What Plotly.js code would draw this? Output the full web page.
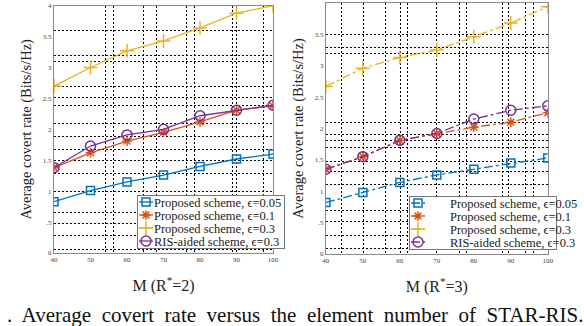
<!DOCTYPE html>
<html><head><meta charset="utf-8">
<script src="https://cdn.plot.ly/plotly-3.0.1.min.js"></script>
<style>html,body{margin:0;padding:0;background:#fff}#c{width:584px;height:326px}</style>
</head><body><div id="c"></div>
<script>
const M = [40, 50, 60, 70, 80, 90, 100];
const names = ["Proposed scheme, \u03f5=0.05", "Proposed scheme, \u03f5=0.1", "Proposed scheme, \u03f5=0.3", "RIS-aided scheme, \u03f5=0.3"];
// R*=2
const left_eps005 = [0.83, 1.01, 1.15, 1.26, 1.40, 1.52, 1.60];
const left_eps01  = [1.38, 1.62, 1.81, 1.95, 2.12, 2.31, 2.38];
const left_eps03  = [2.70, 3.00, 3.27, 3.43, 3.64, 3.88, 4.00];
const left_ris03  = [1.38, 1.73, 1.91, 2.00, 2.22, 2.31, 2.39];
// R*=3
const right_eps005 = [0.82, 0.98, 1.14, 1.26, 1.35, 1.45, 1.53];
const right_eps01  = [1.35, 1.55, 1.81, 1.92, 2.02, 2.10, 2.25];
const right_eps03  = [2.67, 2.96, 3.13, 3.25, 3.46, 3.68, 3.94];
const right_ris03  = [1.35, 1.55, 1.81, 1.92, 2.15, 2.29, 2.36];
const yTicks = [0, 0.5, 1, 1.5, 2, 2.5, 3, 3.5, 4];
const yTickText = ["0", ".5", "1", "1.5", "2", "2.5", "3", "3.5", "4"];
const caption = ".\u00a0 Average\u00a0 covert\u00a0 rate\u00a0 versus\u00a0 the\u00a0 element\u00a0 number\u00a0 of\u00a0 STAR-RIS.";

const colors = ["#0072BD", "#D95319", "#EDB120", "#7E2F8E"];
const symbols = ["square-open", "asterisk-open", "cross-thin-open", "circle-open"];
const sizes = [8, 8, 10, 10];
// irregular dotted grid seen in the (rescaled) reference
const gridXL = [54.2, 56.2, 64.4, 68.2, 76.4, 78.4, 88.8, 90.1, 97.3];
const gridYL = [3.60, 3.20, 3.10, 2.69, 2.51, 2.39, 2.10, 1.88, 1.68, 1.49, 1.29, 0.99, 0.66, 0.47, 0.29, 0.06];
const gridXR = [44.2, 50.1, 56.2, 60.1, 62, 69.9, 76, 78, 87.8, 89.3, 94.1, 96];
const gridYR = [3.49, 3.29, 3.20, 2.09, 1.90, 1.80, 1.69, 1.48, 1.31, 1.10, 0.70, 0.52, 0.30, 0.08];

function mk(ys, i, xa, ya, dash, leg) {
  return {x: M, y: ys, xaxis: xa, yaxis: ya, name: names[i], legend: leg,
    mode: "lines+markers", type: "scatter",
    line: {color: colors[i], width: 1.3, dash: dash},
    marker: {symbol: symbols[i], size: sizes[i], color: colors[i], line: {color: colors[i], width: 1.5}}};
}
const data = [
  mk(left_eps005, 0, "x", "y", "solid", "legend"),
  mk(left_eps01, 1, "x", "y", "solid", "legend"),
  mk(left_eps03, 2, "x", "y", "solid", "legend"),
  mk(left_ris03, 3, "x", "y", "solid", "legend"),
  mk(right_eps005, 0, "x2", "y2", "dashdot", "legend2"),
  mk(right_eps01, 1, "x2", "y2", "dashdot", "legend2"),
  mk(right_eps03, 2, "x2", "y2", "dashdot", "legend2"),
  mk(right_ris03, 3, "x2", "y2", "dashdot", "legend2"),
];
const TF = "Liberation Serif, Times New Roman, serif";
const minorGrid = vals => ({tickmode: "array", tickvals: vals, showgrid: true, ticks: "",
  gridcolor: "#000", griddash: "2px,2px", gridwidth: 1});
function xax(dom, anchor, txt, g) {
  return {domain: dom, anchor: anchor, range: [40, 100], tickvals: M, ticks: "",
    showline: true, mirror: true, linecolor: "#8a8a8a", linewidth: 1,
    showgrid: false, zeroline: false, minor: minorGrid(g),
    tickfont: {family: TF, size: 7, color: "#444"},
    title: {text: txt, font: {family: TF, size: 16, color: "#222"}, standoff: 16}};
}
function yax(dom, anchor, g) {
  return {domain: dom, anchor: anchor, range: [0, 4], tickvals: yTicks, ticktext: yTickText, ticks: "",
    showline: true, mirror: true, linecolor: "#8a8a8a", linewidth: 1,
    showgrid: false, zeroline: false, minor: minorGrid(g),
    tickfont: {family: TF, size: 7, color: "#444"},
    title: {text: "Average covert rate (Bits/s/Hz)", font: {family: TF, size: 14.5, color: "#222"}, standoff: 7}};
}
function leg(x, y) {
  return {x: x, y: y, xanchor: "left", yanchor: "top", xref: "paper", yref: "paper",
    bgcolor: "#fff", bordercolor: "#777", borderwidth: 1,
    font: {family: TF, size: 12.5, color: "#222"}, itemwidth: 30, tracegroupgap: 0};
}
const layout = {
  width: 584, height: 326, margin: {l: 0, r: 0, t: 0, b: 0},
  paper_bgcolor: "#fff", plot_bgcolor: "#fff", showlegend: true,
  xaxis: xax([0.0925, 0.4675], "y", "M (R<sup>*</sup>=2)", gridXL),
  yaxis: yax([0.224, 0.9825], "x", gridYL),
  xaxis2: xax([0.558, 0.938], "y2", "M (R<sup>*</sup>=3)", gridXR),
  yaxis2: yax([0.221, 0.991], "x2", gridYR),
  legend: leg(137/584, 1 - 195/326),
  legend2: leg(409/584, 1 - 196/326),
  annotations: [{text: caption,
    xref: "paper", yref: "paper", x: 5/584, y: 1 - 315/326, xanchor: "left", yanchor: "middle",
    showarrow: false, font: {family: TF, size: 21, color: "#111"}}]
};
// compact MATLAB-like legend: rows 13px apart, short line samples
function compactLegends(gd) {
  const legs = Array.from(gd.querySelectorAll("g.legend, g.legend2"));
  const step = 13, y0 = 7, textX = 16;
  let maxW = 0, textOrigin = 40;
  legs.forEach(lg => lg.querySelectorAll("text.legendtext").forEach(tx => {
    const bb = tx.getBBox();
    if (bb.width > 0) { maxW = Math.max(maxW, bb.width); textOrigin = bb.x; }
  }));
  if (!(maxW > 0)) maxW = 112;
  const info = gd.querySelector("g.infolayer");
  legs.forEach(lg => {
    const traces = lg.querySelectorAll("g.traces");
    traces.forEach((t, i) => {
      t.setAttribute("transform", "translate(1," + (y0 + i * step) + ")");
      t.querySelectorAll("path.js-line").forEach(p => p.setAttribute("d", "M1,0h14"));
      t.querySelectorAll("path.scatterpts").forEach(p => p.setAttribute("transform", "translate(8,0)"));
      const tx = t.querySelector("text.legendtext");
      if (tx) tx.setAttribute("transform", "translate(" + (textX - textOrigin) + ",0)");
    });
    const old = lg.querySelector("rect.bg");
    if (old) old.style.display = "none";
    let ox = 0, oy = 0;
    const m = (lg.getAttribute("transform") || "").match(/translate\(\s*([-\d.]+)[ ,]+([-\d.]+)/);
    if (m) { ox = parseFloat(m[1]); oy = parseFloat(m[2]); }
    const r = document.createElementNS("http://www.w3.org/2000/svg", "rect");
    r.setAttribute("class", "mybg");
    r.setAttribute("x", ox + 0.5); r.setAttribute("y", oy + 0.5);
    r.setAttribute("width", textX + maxW + 4); r.setAttribute("height", step * traces.length + 1);
    r.setAttribute("shape-rendering", "crispEdges");
    r.setAttribute("style", "fill:#fff;stroke:#777;stroke-width:1px");
    if (info && lg.parentNode === info) info.insertBefore(r, info.firstChild);
    else lg.parentNode.insertBefore(r, lg);
  });
  document.querySelectorAll("clipPath rect").forEach(r => {
    if ((r.parentNode.id || "").indexOf("legend") >= 0) { r.setAttribute("height", 200); r.setAttribute("width", 400); }
  });
}
Plotly.newPlot("c", data, layout, {displayModeBar: false, staticPlot: true}).then(gd => {
  try { compactLegends(gd); } catch (e) {}
  setTimeout(() => {
    try { gd.querySelectorAll("rect.mybg").forEach(r => r.remove()); compactLegends(gd); } catch (e) {}
  }, 60);
});
</script></body></html>
